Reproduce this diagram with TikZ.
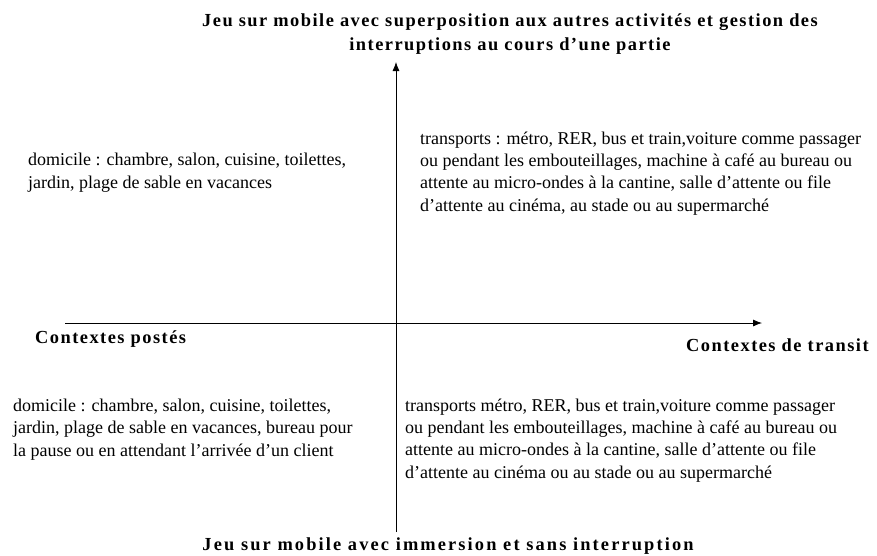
\documentclass[tikz,border=0pt]{standalone}
\usepackage{fontspec}
\setmainfont{Liberation Serif}
\newfontfamily\titrefont[LetterSpace=8]{Liberation Serif}
\usepackage{tikz}
\usetikzlibrary{arrows.meta}

\begin{document}
\begin{tikzpicture}[x=1pt,y=-1pt]
    \tikzset{axe/.style    = {line width=0.8pt,
        -{Latex[length=9pt,width=7pt]}},
      titre/.style  = {inner sep=0pt, font=\titrefont\bfseries\fontsize{18.4}{22}\selectfont},
      texte/.style  = {inner sep=0pt, anchor=base west, align=left,
        font=\fontsize{18}{22.2}\selectfont}}
    
    \useasboundingbox (0,0) rectangle (877,555);
    
    \def\Xaxe{396};
    \def\Yaxe{323};
    
    % Draw the axes.
    \coordinate (bas) at (\Xaxe,532);
    \coordinate (haut) at (\Xaxe,62);
    \coordinate (gauche) at (65,\Yaxe);
    \coordinate (droite) at (762,\Yaxe);
    \draw[axe] (bas) -- (haut);
    \draw[axe] (gauche) -- (droite);
    
    % Axis labels.
    \node[titre, anchor=base] (nord1) at (510,26) {Jeu sur mobile avec superposition aux autres activités et gestion des};
    \node[titre, anchor=base] (nord2) at (510,50) {interruptions au cours d’une partie};
    \node[titre, anchor=base] (sud) at (448,550) {\addfontfeatures{LetterSpace=11.5}Jeu sur mobile avec immersion et sans interruption};
    \node[titre, anchor=base west] (ouest) at (35,343) {Contextes postés};
    \node[titre, anchor=base west] (est) at (686,351) {Contextes de transit};
    
    % Contexts in each quadrant (anchored on the last line).
    \node[texte] (nordouest) at (28,188) {domicile : chambre, salon, cuisine, toilettes,\\
      jardin, plage de sable en vacances};
    \node[texte] (nordest) at (420,211) {transports : métro, RER, bus et train,voiture comme passager\\
      ou pendant les embouteillages, machine à café au bureau ou\\
      attente au micro-ondes à la cantine, salle d’attente ou file\\
      d’attente au cinéma, au stade ou au supermarché};
    \node[texte] (sudouest) at (13,456) {domicile : chambre, salon, cuisine, toilettes,\\
      jardin, plage de sable en vacances, bureau pour\\
      la pause ou en attendant l’arrivée d’un client};
    \node[texte] (sudest) at (405,478) {transports métro, RER, bus et train,voiture comme passager\\
      ou pendant les embouteillages, machine à café au bureau ou\\
      attente au micro-ondes à la cantine, salle d’attente ou file\\
      d’attente au cinéma ou au stade ou au supermarché};
  \end{tikzpicture}
\end{document}
